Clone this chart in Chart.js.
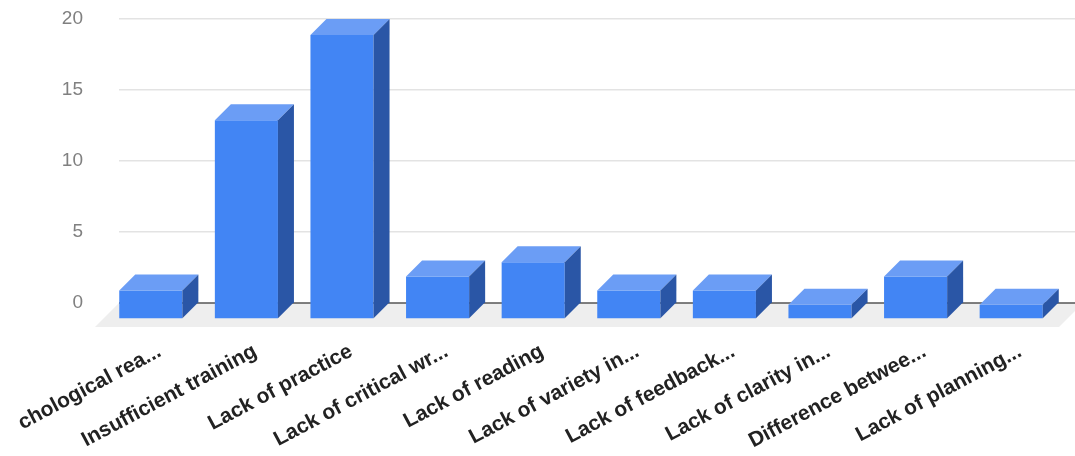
<!DOCTYPE html>
<html>
<head>
<meta charset="utf-8">
<script src="https://cdn.jsdelivr.net/npm/chart.js@4.4.1/dist/chart.umd.min.js"></script>
<style>
  html, body { margin: 0; padding: 0; background: #ffffff; }
  #wrap { width: 1075px; height: 456px; }
</style>
</head>
<body>
<div id="wrap"><canvas id="c" width="1075" height="456"></canvas></div>
<script>
const categories = [
  "chological rea...",
  "Insufficient training",
  "Lack of practice",
  "Lack of critical wr...",
  "Lack of reading",
  "Lack of variety in...",
  "Lack of feedback...",
  "Lack of clarity in...",
  "Difference betwee...",
  "Lack of planning..."
];
const counts = [2, 14, 20, 3, 4, 2, 2, 1, 3, 1];
const yTicks = [0, 5, 10, 15, 20];

const DEPTH = 16;
const FLOOR = 24;
const FRONT = '#4285f4';
const TOP = '#6b9df5';
const SIDE = '#2a56a6';

const bars3d = {
  id: 'bars3d',
  beforeDatasetsDraw(chart) {
    const ctx = chart.ctx;
    const a = chart.chartArea;
    // floor
    ctx.save();
    ctx.fillStyle = '#eeeeee';
    ctx.beginPath();
    ctx.moveTo(a.left, a.bottom);
    ctx.lineTo(a.right + 8, a.bottom);
    ctx.lineTo(a.right + 8 - FLOOR, a.bottom + FLOOR);
    ctx.lineTo(a.left - FLOOR, a.bottom + FLOOR);
    ctx.closePath();
    ctx.fill();
    ctx.strokeStyle = '#555555';
    ctx.lineWidth = 1.5;
    ctx.beginPath();
    ctx.moveTo(a.left, a.bottom);
    ctx.lineTo(a.right, a.bottom);
    ctx.stroke();
    ctx.restore();
    ctx.save();
    ctx.translate(-DEPTH, DEPTH);
  },
  afterDatasetsDraw(chart) {
    const ctx = chart.ctx;
    ctx.restore();
    const meta = chart.getDatasetMeta(0);
    ctx.save();
    meta.data.forEach(el => {
      const p = el.getProps(['x', 'y', 'base', 'width'], true);
      const l = p.x - p.width / 2, r = p.x + p.width / 2;
      // top
      ctx.fillStyle = TOP;
      ctx.beginPath();
      ctx.moveTo(l - DEPTH, p.y + DEPTH);
      ctx.lineTo(r - DEPTH, p.y + DEPTH);
      ctx.lineTo(r, p.y);
      ctx.lineTo(l, p.y);
      ctx.closePath();
      ctx.fill();
      // side
      ctx.fillStyle = SIDE;
      ctx.beginPath();
      ctx.moveTo(r - DEPTH, p.y + DEPTH);
      ctx.lineTo(r, p.y);
      ctx.lineTo(r, p.base);
      ctx.lineTo(r - DEPTH, p.base + DEPTH);
      ctx.closePath();
      ctx.fill();
    });
    ctx.restore();
  }
};

new Chart(document.getElementById('c'), {
  type: 'bar',
  data: {
    labels: categories,
    datasets: [{
      data: counts,
      backgroundColor: FRONT,
      borderWidth: 0,
      categoryPercentage: 1.0,
      barPercentage: 0.66,
      clip: false
    }]
  },
  options: {
    responsive: false,
    animation: false,
    events: [],
    layout: { padding: { top: 19, right: 0, left: 0, bottom: 0 } },
    plugins: { legend: { display: false }, tooltip: { enabled: false } },
    scales: {
      x: {
        grid: { display: false, drawTicks: false },
        border: { display: false },
        ticks: {
          autoSkip: false,
          minRotation: 28,
          maxRotation: 28,
          padding: 36,
          labelOffset: -7,
          color: '#222222',
          font: { family: "'Liberation Sans', Arial, sans-serif", size: 21, weight: 'bold' }
        },
        afterFit(scale) {
          scale.height = 153;
          scale.paddingLeft = 0;
          scale.paddingRight = 0;
          scale.paddingTop = 0;
          scale.paddingBottom = 0;
        }
      },
      y: {
        min: 0,
        max: 20,
        afterBuildTicks(scale) { scale.ticks = yTicks.map(v => ({ value: v })); },
        grid: {
          drawTicks: false,
          color: ctx => ctx.tick && ctx.tick.value === 0 ? 'rgba(0,0,0,0)' : '#e3e3e3',
          lineWidth: 1.5
        },
        border: { display: false },
        ticks: {
          padding: 36,
          color: '#808080',
          font: { family: "'Liberation Sans', Arial, sans-serif", size: 19 }
        },
        afterFit(scale) {
          scale.width = 119;
          scale.paddingTop = 0;
          scale.paddingBottom = 0;
        }
      }
    }
  },
  plugins: [bars3d]
});
</script>
</body>
</html>
